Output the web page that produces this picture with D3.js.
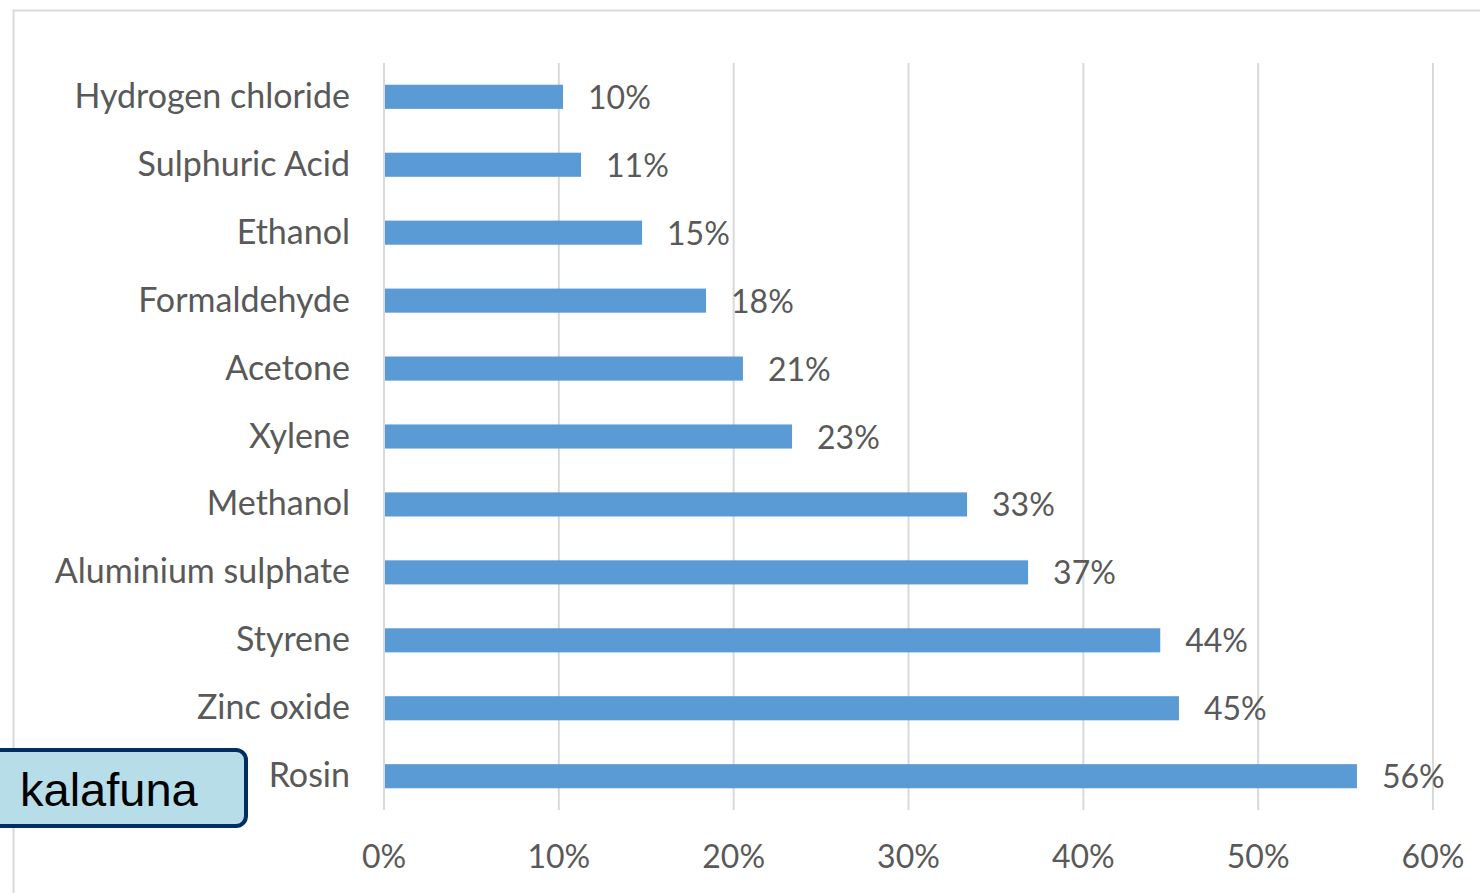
<!DOCTYPE html>
<html>
<head>
<meta charset="utf-8">
<script src="https://cdn.jsdelivr.net/npm/d3@7"></script>
<style>
  html, body { margin: 0; padding: 0; background: #fff; }
  svg { display: block; }
</style>
</head>
<body>
<svg id="chart" width="1480" height="893"></svg>
<script>
// data
const categories = ["Hydrogen chloride", "Sulphuric Acid", "Ethanol", "Formaldehyde", "Acetone",
  "Xylene", "Methanol", "Aluminium sulphate", "Styrene", "Zinc oxide", "Rosin"];
const values = [0.1024, 0.1127, 0.1476, 0.1842, 0.2053, 0.2334, 0.3335, 0.3684, 0.444, 0.4547, 0.5565];
const ticks = [0, 0.1, 0.2, 0.3, 0.4, 0.5, 0.6];
const note = "kalafuna";

const svg = d3.select("#chart");
const font = "Lato, 'Open Sans', sans-serif";
const grey = "#595959";

// chart frame
svg.append("rect")
  .attr("x", 13.5).attr("y", 10.5)
  .attr("width", 1500).attr("height", 900)
  .attr("fill", "none").attr("stroke", "#d9d9d9").attr("stroke-width", 2);

const x = d3.scaleLinear().domain([0, 0.6]).range([384, 1433]);
const y = d3.scaleBand().domain(categories).range([63, 810]).paddingInner(0.645).paddingOuter(0.32);

// gridlines
svg.append("g").selectAll("line")
  .data(ticks)
  .join("line")
  .attr("x1", d => x(d)).attr("x2", d => x(d))
  .attr("y1", 63).attr("y2", 810)
  .attr("stroke", "#d9d9d9").attr("stroke-width", 2);

// x tick labels
svg.append("g").selectAll("text")
  .data(ticks)
  .join("text")
  .text(d3.format(".0%"))
  .attr("x", d => x(d))
  .attr("y", 868)
  .attr("text-anchor", "middle")
  .attr("font-family", font).attr("font-size", "32px")
  .attr("fill", grey);

const rows = categories.map((c, i) => ({ name: c, value: values[i] }));

// bars
svg.append("g").selectAll("rect")
  .data(rows)
  .join("rect")
  .attr("x", x(0) + 1)
  .attr("y", d => y(d.name))
  .attr("width", d => x(d.value) - x(0) - 1)
  .attr("height", y.bandwidth())
  .attr("fill", "#5b9bd5");

// category labels
svg.append("g").selectAll("text")
  .data(rows)
  .join("text")
  .text(d => d.name)
  .attr("x", 350)
  .attr("y", d => y(d.name) + y.bandwidth() / 2 + 11)
  .attr("text-anchor", "end")
  .attr("font-family", font).attr("font-size", "34px")
  .attr("fill", grey);

// value labels
svg.append("g").selectAll("text")
  .data(rows)
  .join("text")
  .text(d => d3.format(".0%")(d.value))
  .attr("x", d => x(d.value) + 25)
  .attr("y", d => y(d.name) + y.bandwidth() / 2 + 12)
  .attr("text-anchor", "start")
  .attr("font-family", font).attr("font-size", "32px")
  .attr("fill", grey);

// annotation box
const box = svg.append("g");
box.append("rect")
  .attr("x", -20).attr("y", 750)
  .attr("width", 266).attr("height", 76)
  .attr("rx", 10)
  .attr("fill", "#b7dde8").attr("stroke", "#002d62").attr("stroke-width", 4);
box.append("text")
  .text(note)
  .attr("x", 20).attr("y", 806)
  .attr("font-family", "'Liberation Sans', Arial, sans-serif")
  .attr("font-size", "47px")
  .attr("fill", "#000");
</script>
</body>
</html>
